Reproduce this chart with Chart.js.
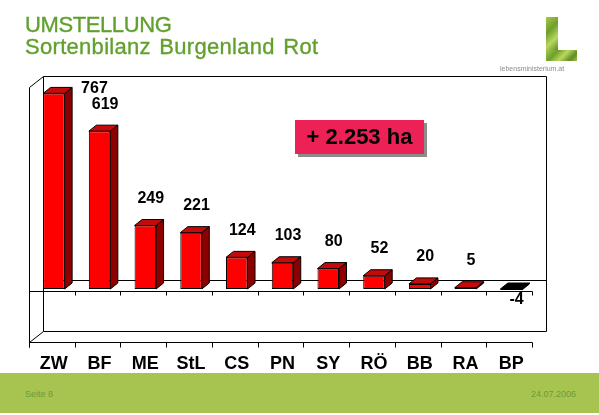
<!DOCTYPE html>
<html>
<head>
<meta charset="utf-8">
<title>Umstellung – Sortenbilanz Burgenland Rot</title>
<script src="https://cdn.jsdelivr.net/npm/chart.js@4/dist/chart.umd.min.js"></script>
<style>
  html, body { margin: 0; padding: 0; background: #fff; }
  #page { position: relative; width: 599px; height: 415px; overflow: hidden;
          font-family: "Liberation Sans", Arial, sans-serif; }
  #chart { position: absolute; left: 0; top: 0; }
  .title { position: absolute; left: 25px; top: 14px; font-size: 22px; line-height: 22px;
           color: #62a02e; white-space: nowrap; -webkit-text-stroke: 0.35px #62a02e; }
  .title .l1 { letter-spacing: -0.4px; }
  .title .l2 { letter-spacing: 0.3px; word-spacing: 2px; }
  .logo-v, .logo-h { position: absolute;
           background: linear-gradient(135deg, #a6cc4a 0%, #6f9e2c 30%, #b8d85e 55%, #5f8c26 80%, #9cc444 100%); }
  .logo-v { left: 546px; top: 17px; width: 12px; height: 44px; }
  .logo-h { left: 546px; top: 50px; width: 31px; height: 11px; }
  .logo-text { position: absolute; left: 500px; top: 64px; font-size: 7px; line-height: 9px;
           color: #8c8c8c; white-space: nowrap; }
  .total { position: absolute; left: 295px; top: 120px; width: 129px; height: 34px;
           background: #ec2257; box-shadow: 3px 3px 0 #8c8c8c; color: #000;
           font-weight: bold; font-size: 22px; line-height: 34px; text-align: center; white-space: nowrap; }
  .footer { position: absolute; left: 0; top: 373px; width: 599px; height: 40px; background: #a8c450; }
  .footer span { position: absolute; top: 15px; font-size: 9px; line-height: 12px; color: #6b9a3c; white-space: nowrap; }
  .footer .page-no { left: 25px; }
  .footer .date { left: 531px; }
</style>
</head>
<body>
<div id="page">
  <canvas id="chart" width="599" height="415"></canvas>
  <div class="title"><span class="l1">UMSTELLUNG</span><br><span class="l2">Sortenbilanz Burgenland Rot</span></div>
  <div class="logo-v"></div><div class="logo-h"></div>
  <div class="logo-text">lebensministerium.at</div>
  <div class="total">+ 2.253 ha</div>
  <div class="footer"><span class="page-no">Seite 8</span><span class="date">24.07.2006</span></div>
</div>
<script>
// Varieties (abbreviations) and change of vineyard area in hectares
const categories = ['ZW', 'BF', 'ME', 'StL', 'CS', 'PN', 'SY', 'RÖ', 'BB', 'RA', 'BP'];
const hectares = [767, 619, 249, 221, 124, 103, 80, 52, 20, 5, -4];
const axisMin = -200;
const axisMax = 800;

// pseudo-3D geometry (pixels, relative to the bar plane = chart area)
const WALL_DX = 11.5, WALL_DY = -9;    // back wall
const FRONT_DX = -2, FRONT_DY = 1.5;   // front frame
const BAR_DX = 7.5, BAR_DY = -6;       // depth of each bar

const crisp = v => Math.round(v) + 0.5;

function line(ctx, x1, y1, x2, y2) {
  ctx.moveTo(x1, y1); ctx.lineTo(x2, y2);
}

function poly(ctx, pts, fill) {
  ctx.beginPath();
  pts.forEach((p, i) => i ? ctx.lineTo(p[0], p[1]) : ctx.moveTo(p[0], p[1]));
  ctx.closePath();
  ctx.fillStyle = fill;
  ctx.fill();
  ctx.stroke();
}

const frame3d = {
  id: 'frame3d',
  beforeDatasetsDraw(chart) {
    const { ctx, chartArea: a, scales: { y } } = chart;
    const zero = y.getPixelForValue(0);
    const bl = crisp(a.left + WALL_DX), br = crisp(a.right + WALL_DX);
    const bt = crisp(a.top + WALL_DY), bb = crisp(a.bottom + WALL_DY);
    const fl = crisp(a.left + FRONT_DX), ft = crisp(a.top + FRONT_DY), fb = crisp(a.bottom + FRONT_DY);
    ctx.save();
    ctx.strokeStyle = '#000';
    ctx.lineWidth = 1;
    ctx.beginPath();
    ctx.rect(bl, bt, br - bl, bb - bt);
    line(ctx, fl, ft, bl, bt);
    line(ctx, fl, fb, bl, bb);
    line(ctx, bl, crisp(zero + WALL_DY), br, crisp(zero + WALL_DY));
    line(ctx, fl, ft, fl, fb + 5);
    ctx.stroke();
    ctx.restore();
  },
  afterDatasetsDraw(chart) {
    const { ctx, chartArea: a, scales: { x, y } } = chart;
    const zero = y.getPixelForValue(0);
    const fl = crisp(a.left + FRONT_DX), fr = crisp(a.right + FRONT_DX);
    const fz = crisp(zero + FRONT_DY), fb = crisp(a.bottom + FRONT_DY);
    const bt = a.top + WALL_DY;
    const step = (x.right - x.left) / categories.length;

    ctx.save();
    ctx.strokeStyle = '#000';
    ctx.lineWidth = 1;

    // depth faces of the bars
    const meta = chart.getDatasetMeta(0);
    meta.data.forEach((bar, i) => {
      const p = bar.getProps(['x', 'y', 'base', 'width'], true);
      const l = p.x - p.width / 2, r = p.x + p.width / 2;
      const t = Math.min(p.y, p.base), b = Math.max(p.y, p.base);
      const neg = hectares[i] < 0;
      poly(ctx, [[r, t], [r + BAR_DX, t + BAR_DY], [r + BAR_DX, b + BAR_DY], [r, b]], neg ? '#000' : '#8c0000');
      poly(ctx, [[l, t], [r, t], [r + BAR_DX, t + BAR_DY], [l + BAR_DX, t + BAR_DY]], neg ? '#000' : '#c40a0a');
    });

    // front zero line, front floor line and their tick marks
    ctx.beginPath();
    line(ctx, fl, fz, fr, fz);
    line(ctx, fl, fb, fr, fb);
    for (let i = 0; i <= categories.length; i++) {
      const tx = crisp(x.left + i * step + FRONT_DX);
      line(ctx, tx, fz, tx, fz + 4);
      line(ctx, tx, fb, tx, fb + 5);
    }
    ctx.stroke();

    // value labels
    ctx.fillStyle = '#000';
    ctx.font = 'bold 16px "Liberation Sans", Arial, sans-serif';
    ctx.textAlign = 'center';
    ctx.textBaseline = 'middle';
    meta.data.forEach((bar, i) => {
      const v = hectares[i];
      const p = bar.getProps(['x', 'y', 'base', 'width'], true);
      const r = p.x + p.width / 2;
      const t = Math.min(p.y, p.base), b = Math.max(p.y, p.base);
      const text = String(v);
      let lx = p.x + 5.5, ly;
      if (v < 0) {
        ly = b + 10;
      } else {
        ly = t - 27;
        if (ly - 8 < bt) {           // no room above: set it beside the bar
          lx = r + BAR_DX + 9 + ctx.measureText(text).width / 2;
          ly = t - 5;
        }
      }
      ctx.fillText(text, lx, ly);
    });
    ctx.restore();
  }
};

new Chart(document.getElementById('chart'), {
  type: 'bar',
  data: {
    labels: categories,
    datasets: [{
      data: hectares,
      backgroundColor: hectares.map(v => v < 0 ? '#000' : '#ff0000'),
      borderColor: '#000',
      borderWidth: 1,
      borderSkipped: false,
      barPercentage: 0.47,
      categoryPercentage: 1
    }]
  },
  options: {
    responsive: false,
    devicePixelRatio: 1,
    animation: false,
    layout: { padding: { left: 31, right: 65, top: 85, bottom: 0 } },
    plugins: { legend: { display: false }, tooltip: { enabled: false }, title: { display: false } },
    scales: {
      x: {
        offset: true,
        grid: { display: false },
        border: { display: false },
        ticks: {
          color: '#000',
          font: { family: '"Liberation Sans", Arial, sans-serif', size: 18, weight: 'bold' },
          padding: 5,
          autoSkip: false,
          maxRotation: 0
        },
        afterFit(scale) { scale.height = 75; }
      },
      y: {
        display: false,
        min: axisMin,
        max: axisMax
      }
    }
  },
  plugins: [frame3d]
});
</script>
</body>
</html>
